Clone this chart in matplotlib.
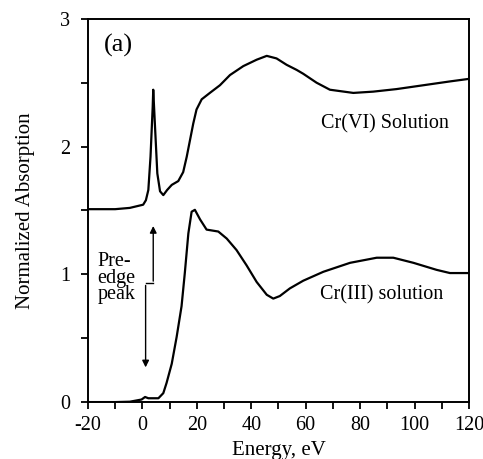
import matplotlib
matplotlib.use("Agg")
import matplotlib.pyplot as plt
from matplotlib.ticker import MultipleLocator

plt.rcParams["font.family"] = ["Liberation Serif", "DejaVu Serif"]
plt.rcParams["axes.unicode_minus"] = False

# Cr(VI) solution
cr6_x = [-20, -10, -4.6, 0.3, 1.3, 2.2, 3.0, 3.8, 4.0, 4.6, 5.5, 6.5, 7.7, 9.1, 10.8,
         13.2, 15.0, 16.3, 17.5, 18.7, 19.9, 21.8, 24.8, 28.5, 32.2, 37.1, 42.0,
         45.7, 49.3, 53.0, 56.7, 59.1, 64.0, 68.9, 77.5, 84.8, 93.4, 103.2, 113.0, 120]
cr6_y = [1.51, 1.51, 1.52, 1.545, 1.58, 1.66, 1.92, 2.31, 2.445, 2.18, 1.79, 1.65, 1.62,
         1.66, 1.70, 1.73, 1.80, 1.92, 2.05, 2.18, 2.29, 2.37, 2.42, 2.48, 2.56, 2.63,
         2.68, 2.71, 2.69, 2.64, 2.60, 2.57, 2.50, 2.445, 2.42, 2.43, 2.45, 2.48, 2.51,
         2.53]

# Cr(III) solution
cr3_x = [-20, -10, -4.6, -0.3, 1.0, 2.2, 5.9, 7.7, 8.9, 10.8, 12.6, 14.4, 15.6, 16.9,
         18.1, 19.3, 21.2, 23.6, 27.9, 31.0, 34.6, 38.3, 42.0, 45.7, 48.1, 50.5, 54.2,
         59.1, 66.5, 76.3, 86.1, 92.2, 99.6, 108.1, 113.0, 120]
cr3_y = [0.0, 0.0, 0.003, 0.02, 0.04, 0.03, 0.03, 0.07, 0.15, 0.30, 0.51, 0.75, 1.01,
         1.32, 1.49, 1.505, 1.43, 1.35, 1.335, 1.28, 1.19, 1.07, 0.94, 0.84, 0.81, 0.83,
         0.89, 0.95, 1.02, 1.09, 1.13, 1.13, 1.09, 1.035, 1.01, 1.01]

fig = plt.figure(figsize=(4.83, 4.59), dpi=100)
ax = fig.add_axes([0.182, 0.124, 0.789, 0.835])

ax.plot(cr6_x, cr6_y, color="black", lw=1.6)
ax.plot(cr3_x, cr3_y, color="black", lw=1.6)

ax.set_xlim(-20, 120)
ax.set_ylim(0, 3)
ax.xaxis.set_major_locator(MultipleLocator(20))
ax.xaxis.set_minor_locator(MultipleLocator(10))
ax.yaxis.set_major_locator(MultipleLocator(1))
ax.yaxis.set_minor_locator(MultipleLocator(0.5))
ax.tick_params(which="both", direction="out", width=1.3, length=5,
               labelsize=14.5, top=False, right=False)
ax.tick_params(axis="y", pad=8)
ax.tick_params(axis="x", pad=5)
for s in ax.spines.values():
    s.set_linewidth(1.4)

ax.set_xlabel("Energy, eV", fontsize=15, labelpad=4)
ax.set_ylabel("Normalized Absorption", fontsize=15, labelpad=18)

ax.text(-8.9, 2.79, "(a)", fontsize=19, ha="center", va="center")
ax.text(89, 2.18, "Cr(VI) Solution", fontsize=14.5, ha="center", va="center")
ax.text(88, 0.84, "Cr(III) solution", fontsize=14.5, ha="center", va="center")
ax.text(-16.4, 0.97, "Pre-\nedge\npeak", fontsize=14.5, ha="left", va="center",
        linespacing=0.82)

# bracket with two arrows
ax.plot([1.2, 4.0], [0.93, 0.93], color="black", lw=1)
ax.annotate("", xy=(4.0, 1.40), xytext=(4.0, 0.925),
            arrowprops=dict(arrowstyle="-|>", color="black", lw=1, mutation_scale=10))
ax.annotate("", xy=(1.2, 0.25), xytext=(1.2, 0.935),
            arrowprops=dict(arrowstyle="-|>", color="black", lw=1, mutation_scale=10))

fig.savefig("out.png", dpi=100)
